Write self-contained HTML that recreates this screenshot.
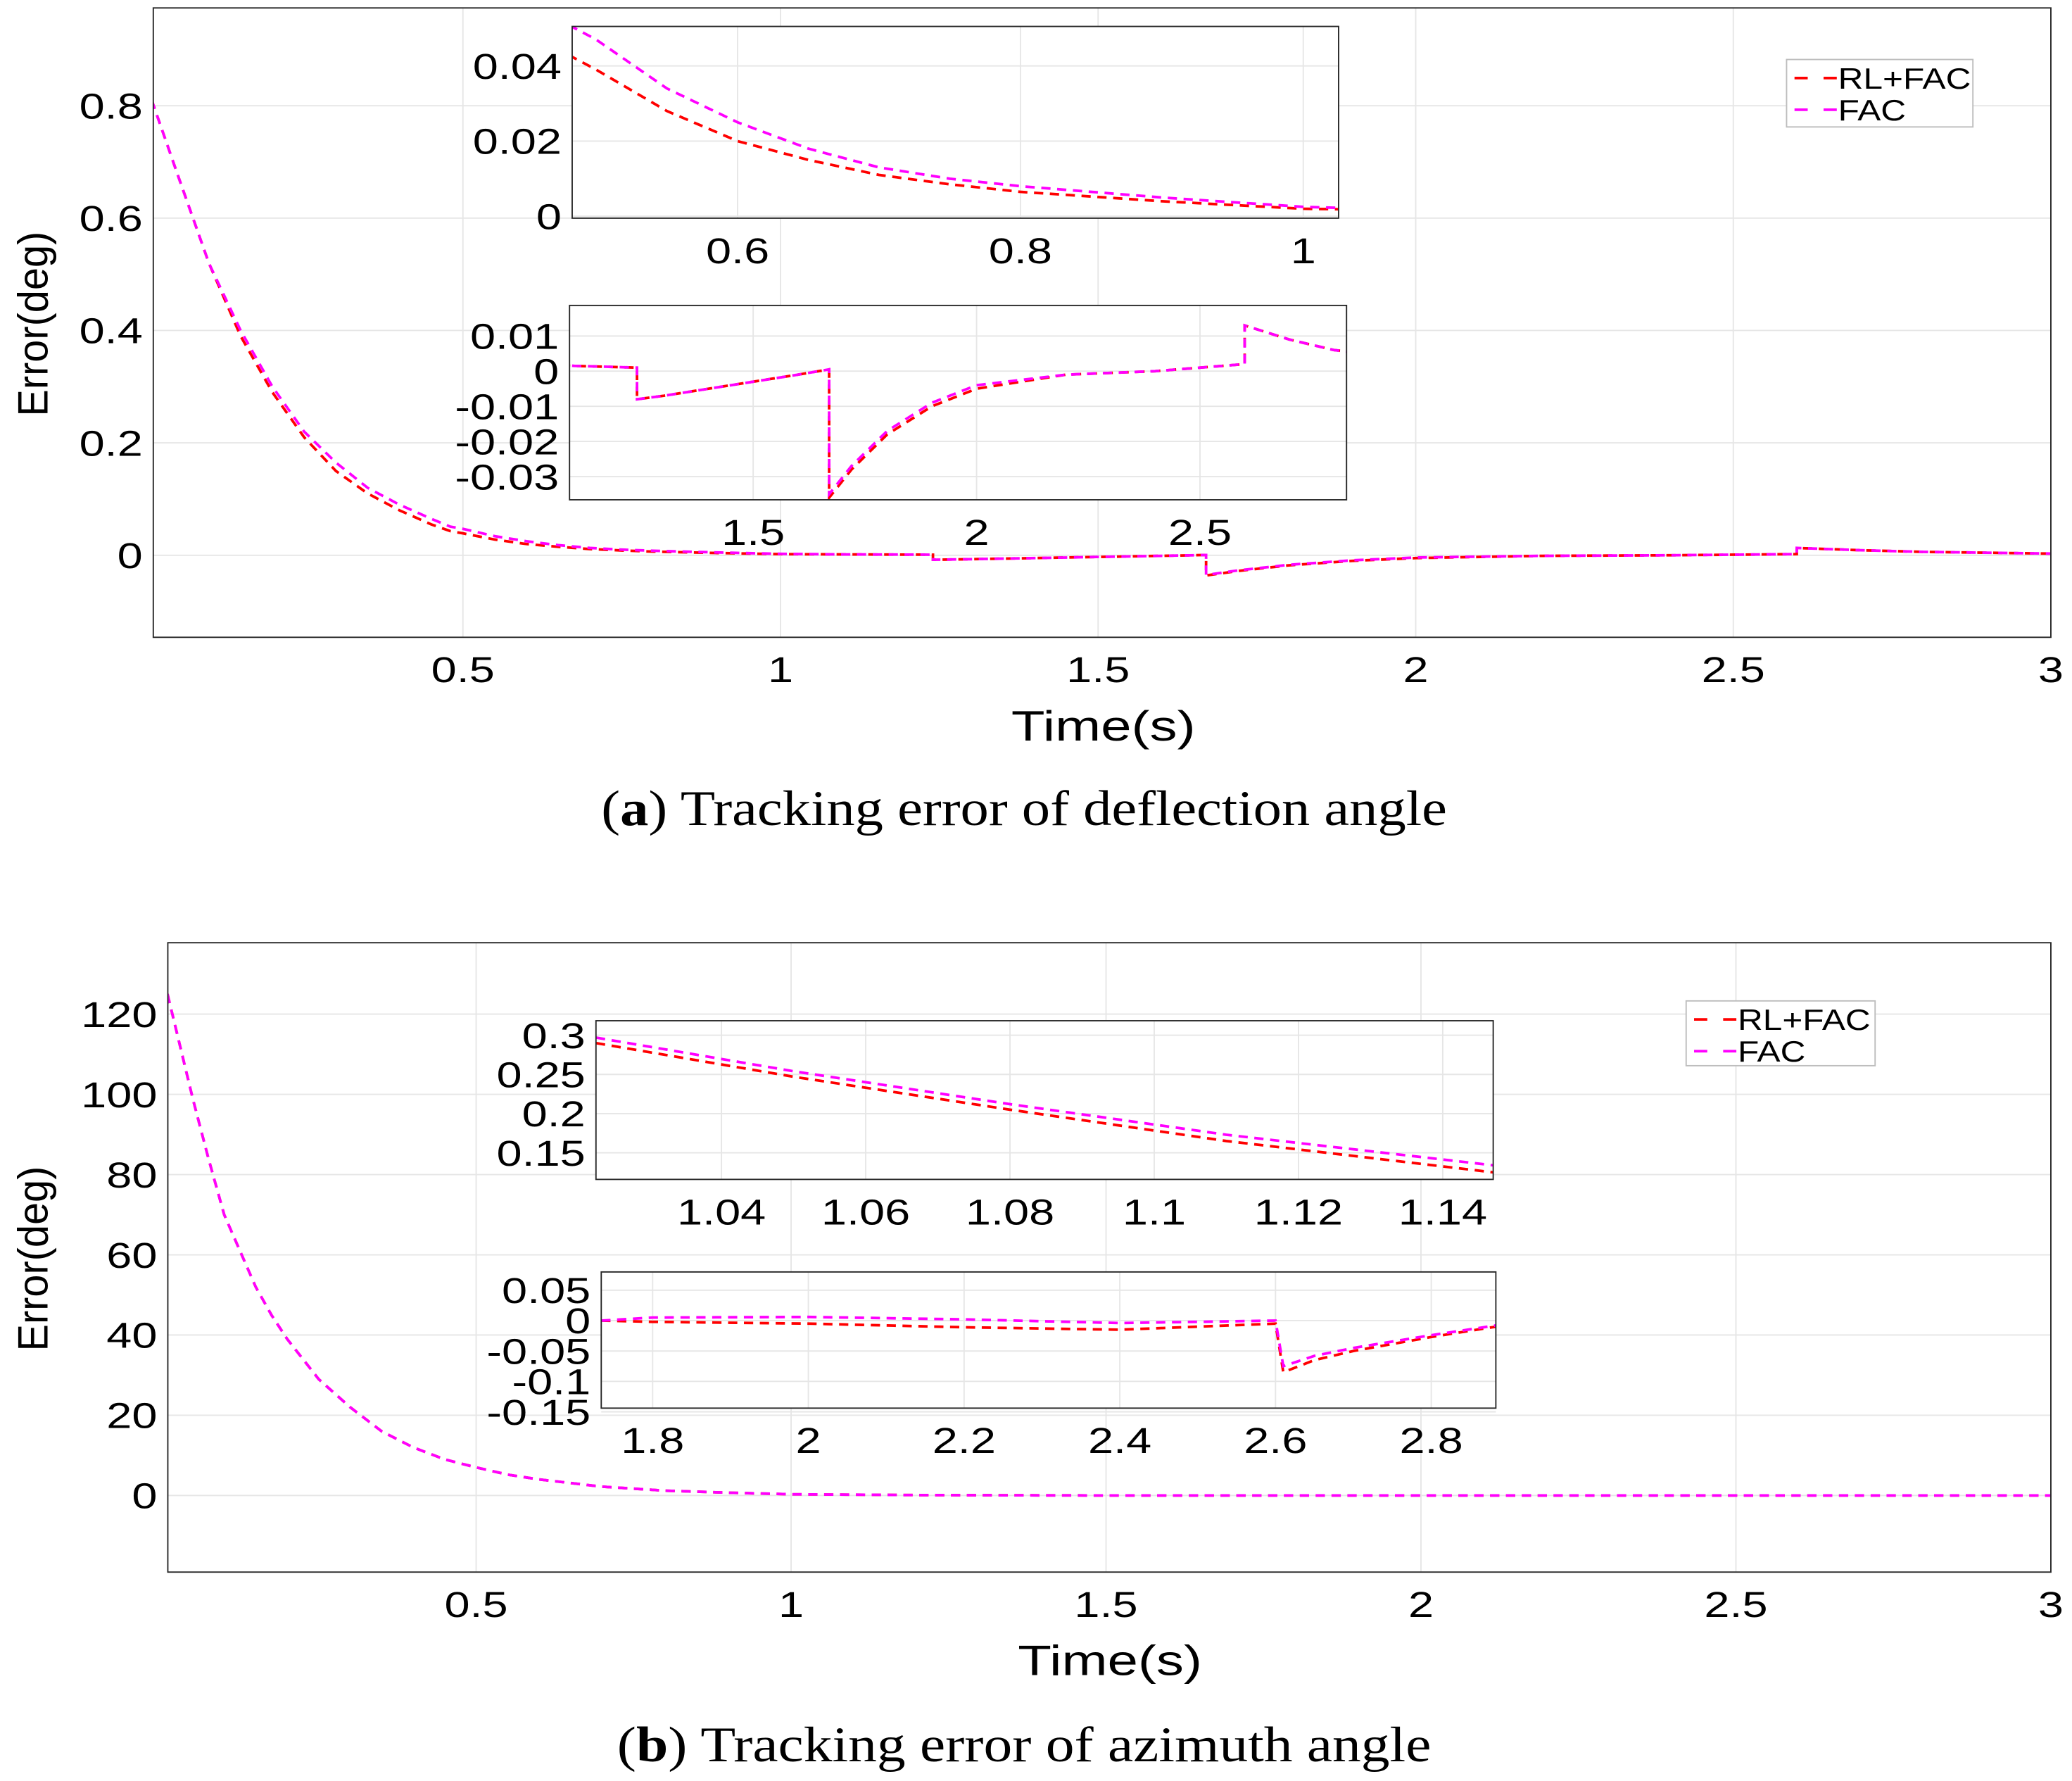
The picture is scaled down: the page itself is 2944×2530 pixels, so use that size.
<!DOCTYPE html>
<html><head><meta charset="utf-8"><style>
html,body{margin:0;padding:0;background:#fff;}
svg{display:block;}
</style></head><body>
<svg id="fig" width="2944" height="2530" viewBox="0 0 1568 1347" preserveAspectRatio="none" xmlns="http://www.w3.org/2000/svg"></svg>
<script>
// ---- data (panel a) ----
const tA = [0.01,0.05,0.1,0.15,0.2,0.25,0.3,0.35,0.4,0.45,0.48,0.5,0.55,0.6,0.65,0.7,0.75,0.8,0.9,1.0,1.1,1.24,1.24,1.3,1.4,1.5,1.6,1.67,1.67,1.72,1.8,1.9,2.0,2.2,2.4,2.6,2.6,2.7,2.8,3.0];
const rlA = [0.81,0.68,0.52,0.39,0.29,0.21,0.15,0.11,0.08,0.055,0.043,0.039,0.028,0.02,0.015,0.011,0.0085,0.0065,0.004,0.002,0.0015,0.001,-0.008,-0.007,-0.005,-0.003,-0.001,0.0005,-0.036,-0.028,-0.018,-0.01,-0.005,-0.001,0.0,0.002,0.013,0.009,0.006,0.003];
const facA = [0.81,0.68,0.52,0.40,0.30,0.22,0.165,0.12,0.09,0.065,0.051,0.047,0.034,0.025,0.018,0.013,0.010,0.008,0.005,0.0025,0.0015,0.001,-0.008,-0.007,-0.005,-0.003,-0.001,0.0005,-0.035,-0.027,-0.017,-0.009,-0.004,-0.001,0.0,0.002,0.013,0.009,0.006,0.003];
// ---- data (panel b) ----
const tB = [0.01,0.03,0.05,0.075,0.1,0.125,0.15,0.175,0.2,0.25,0.3,0.35,0.4,0.45,0.5,0.55,0.6,0.7,0.8,0.9,1.0,1.2,1.5,2.0,3.0];
const rlB = [125,112,99,84,70,61,52,45,39,29,22,16,12,9,7,5.2,4,2.2,1.2,0.7,0.3,0.1,0,0,0];
const facB = [125,112,99,84,70,61,52,45,39,29,22,16,12,9,7,5.2,4,2.2,1.2,0.7,0.3,0.1,0,0,0];
const tB1 = [1.0226,1.05,1.08,1.11,1.147];
const rlB1 = [0.29,0.247,0.205,0.165,0.125];
const facB1 = [0.297,0.254,0.212,0.173,0.134];
const tB2 = [1.734,1.8,2.0,2.2,2.4,2.6,2.61,2.65,2.7,2.8,2.883];
const rlB2 = [0.0,-0.002,-0.005,-0.011,-0.015,-0.005,-0.085,-0.065,-0.05,-0.027,-0.01];
const facB2 = [0.0,0.005,0.006,0.002,-0.004,0.0,-0.075,-0.058,-0.045,-0.024,-0.008];
// ---- ticks ----
const xtA = [0.5,1,1.5,2,2.5,3]; const ytA = [0,0.2,0.4,0.6,0.8];
const xtA1 = [0.6,0.8,1]; const ytA1 = [0,0.02,0.04];
const xtA2 = [1.5,2,2.5]; const ytA2 = [-0.03,-0.02,-0.01,0,0.01];
const xtB = [0.5,1,1.5,2,2.5,3]; const ytB = [0,20,40,60,80,100,120];
const xtB1 = [1.04,1.06,1.08,1.1,1.12,1.14]; const ytB1 = [0.15,0.2,0.25,0.3];
const xtB2 = [1.8,2,2.2,2.4,2.6,2.8]; const ytB2 = [-0.15,-0.1,-0.05,0,0.05];

const NS="http://www.w3.org/2000/svg";
const fig=document.getElementById('fig');
const SX=1.28;
function mk(tag,attrs,parent){const e=document.createElementNS(NS,tag);for(const k in attrs)e.setAttribute(k,attrs[k]);(parent||fig).appendChild(e);return e;}
function stxt(parent,str,x,y,fs,anchor,sx){const t=mk('text',{x:0,y:0,'text-anchor':anchor,'font-size':fs,'font-family':'Liberation Sans, sans-serif',transform:'translate('+x+' '+y+') scale('+(sx||SX)+' 1)'},parent);t.textContent=str;return t;}
let clipId=0;
function plot(name,box,xlim,ylim,xt,yt,series,fs,lbl){
  const g=mk('g',{});
  
  
  const [L,T,R,B]=box;
  const sx=v=>L+(v-xlim[0])/(xlim[1]-xlim[0])*(R-L);
  const sy=v=>B-(v-ylim[0])/(ylim[1]-ylim[0])*(B-T);
  mk('rect',{x:L,y:T,width:R-L,height:B-T,fill:'#fff'},g);
  xt.forEach(v=>{const l=mk('line',{x1:sx(v),x2:sx(v),y1:T,y2:B,stroke:'#e6e6e6','stroke-width':1},g);
    });
  yt.forEach(v=>{const l=mk('line',{x1:L,x2:R,y1:sy(v),y2:sy(v),stroke:'#e6e6e6','stroke-width':1},g);
    });
  const cid='c'+(clipId++);
  const cp=mk('clipPath',{id:cid},g);mk('rect',{x:L,y:T,width:R-L,height:B-T},cp);
  series.forEach(s=>{
    const d=s.t.map((t,i)=>(i?'L':'M')+sx(t).toFixed(2)+' '+sy(s.v[i]).toFixed(2)).join(' ');
    const p=mk('path',{d:d,fill:'none',stroke:s.c,'stroke-width':2,'stroke-dasharray':'7 5','clip-path':'url(#'+cid+')'},g);
    
  });
  mk('rect',{x:L,y:T,width:R-L,height:B-T,fill:'none',stroke:'#262626','stroke-width':1},g);
  xt.forEach(v=>{const t=stxt(g,lbl(v),sx(v),B+fs+7,fs,'middle');
    });
  yt.forEach(v=>{const t=stxt(g,lbl(v),L-8,sy(v)+fs*0.36,fs,'end');
    });
}
const lab=v=>String(+v.toFixed(4));
const RED='#ff0000',MAG='#ff00ff';
function ser(t,r,f){return [{t:t,v:r,c:RED,n:'rl-fac-line'},{t:t,v:f,c:MAG,n:'fac-line'}];}
// Panel a
plot('main-plot-a',[116,6,1552,482],[0.0125,3.0],[-0.146,0.974],xtA,ytA,ser(tA,rlA,facA),27,lab);
plot('inset-a-top',[433,20,1013,165],[0.483,1.025],[-0.0005,0.0505],xtA1,ytA1,ser(tA,rlA,facA),27,lab);
plot('inset-a-bottom',[431,231,1019,378],[1.089,2.828],[-0.0366,0.0187],xtA2,ytA2,ser(tA,rlA,facA),27,lab);
// Panel b
plot('main-plot-b',[127,713,1552,1189],[0.0105,3.0],[-19.1,137.8],xtB,ytB,ser(tB,rlB,facB),27,lab);
plot('inset-b-top',[451,772,1130,892],[1.0226,1.147],[0.116,0.3185],xtB1,ytB1,ser(tB1,rlB1,facB1),27,lab);
plot('inset-b-bottom',[455,962,1132,1065],[1.734,2.883],[-0.144,0.080],xtB2,ytB2,ser(tB2,rlB2,facB2),27,lab);

function title(str,x,y,name,rot,sx){const g=mk('g',{transform:rot?'rotate(-90 '+x+' '+y+')':''});
  const t=stxt(g,str,x,y,32,'middle',sx);}
title('Time(s)',835,560,'x-axis-title-a',false,1.3);
title('Error(deg)',36,245,'y-axis-title-a',true,0.96);
title('Time(s)',840,1267,'x-axis-title-b',false,1.3);
title('Error(deg)',36,952,'y-axis-title-b',true,0.96);
function caption(html,y,name,len){const t=mk('text',{x:775,y:y,'font-size':38,'font-family':'Liberation Serif, serif','text-anchor':'middle',textLength:len,lengthAdjust:'spacingAndGlyphs'});
  t.innerHTML=html;}
caption('(<tspan font-weight="bold">a</tspan>) Tracking error of deflection angle',624,'caption-a',640);
caption('(<tspan font-weight="bold">b</tspan>) Tracking error of azimuth angle',1332,'caption-b',616);

function legend(name,x,y,w,h){
  const g=mk('g',{});
  
  
  mk('rect',{x:x,y:y,width:w,height:h,fill:'#fff',stroke:'#bdbdbd','stroke-width':1},g);
  [['RL+FAC',RED],['FAC',MAG]].forEach((e,i)=>{
    const yy=y+14+i*24;
    const l=mk('line',{x1:x+6,x2:x+38,y1:yy,y2:yy,stroke:e[1],'stroke-width':2,'stroke-dasharray':'10 12'},g);
    
    const t=stxt(g,e[0],x+39,yy+8,22,'start',1.2);
    
  });
}
legend('legend-a',1352,45,141,51);
legend('legend-b',1276,757,143,49);
</script>
</body></html>
